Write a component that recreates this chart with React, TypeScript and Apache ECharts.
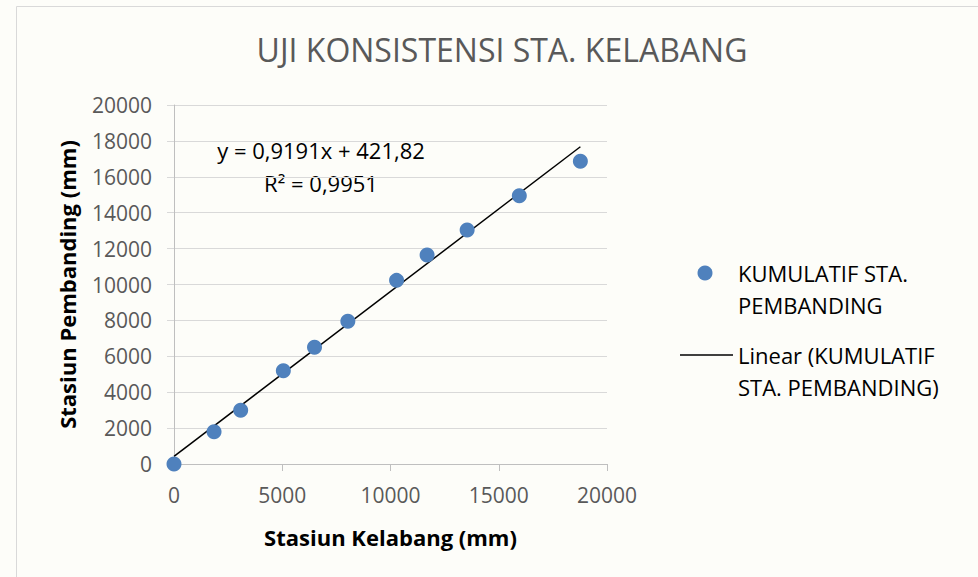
import React, { useEffect, useRef } from "react";
import * as echarts from "echarts";

const titleText = "UJI KONSISTENSI STA. KELABANG";
const xAxisName = "Stasiun Kelabang (mm)";
const yAxisName = "Stasiun Pembanding (mm)";
const seriesName = "KUMULATIF STA. PEMBANDING";
const trendName = "Linear (KUMULATIF STA. PEMBANDING)";
const legendLines1 = ["KUMULATIF STA.", "PEMBANDING"];
const legendLines2 = ["Linear (KUMULATIF", "STA. PEMBANDING)"];

const kelabang = [0, 1850, 3080, 5050, 6490, 8030, 10280, 11690, 13540, 15950, 18770];
const pembanding = [0, 1800, 3000, 5200, 6500, 7950, 10230, 11650, 13040, 14940, 16860];

const slope = 0.9191;
const intercept = 421.82;
const equationLabel = "y = 0,9191x + 421,82";
const r2Label = "R² = 0,9951";

const FONT = "'Open Sans', 'Noto Sans', sans-serif";

export default function App() {
  const ref = useRef<HTMLDivElement>(null);
  useEffect(() => {
    document.body.style.margin = "0";
    if (!ref.current) return;
    const chart = echarts.init(ref.current, undefined, { renderer: "svg" });
    const xMax = Math.max(...kelabang);
    const trend = [
      [0, intercept],
      [xMax, slope * xMax + intercept],
    ];
    const legendText = (x: number, y: number, text: string) => ({
      type: "text",
      x,
      y,
      style: { text, font: `22px ${FONT}`, fill: "#000", textVerticalAlign: "middle" },
    });
    chart.setOption({
      animation: false,
      backgroundColor: "#fdfdf9",
      textStyle: { fontFamily: FONT },
      title: {
        text: titleText,
        left: 497,
        textAlign: "center",
        top: 28,
        textStyle: { fontFamily: FONT, fontSize: 32, fontWeight: "normal", color: "#595959" },
      },
      grid: { left: 174, right: 371, top: 105, bottom: 113 },
      xAxis: {
        type: "value",
        min: 0,
        max: 20000,
        interval: 5000,
        name: xAxisName,
        nameLocation: "middle",
        nameGap: 62,
        nameTextStyle: { fontFamily: FONT, fontSize: 22, fontWeight: "bold", color: "#000" },
        axisLine: { show: true, onZero: false, lineStyle: { color: "#bfbfbf" } },
        axisTick: { show: true, length: 7, lineStyle: { color: "#bfbfbf" } },
        axisLabel: {
          fontFamily: FONT,
          fontSize: 21,
          color: "#595959",
          margin: 20,
          formatter: (v: number) => String(v),
        },
        splitLine: { show: false },
      },
      yAxis: {
        type: "value",
        min: 0,
        max: 20000,
        interval: 2000,
        name: yAxisName,
        nameLocation: "middle",
        nameGap: 96,
        nameTextStyle: { fontFamily: FONT, fontSize: 22, fontWeight: "bold", color: "#000" },
        axisLine: { show: true, lineStyle: { color: "#bfbfbf" } },
        axisTick: { show: true, length: 7, lineStyle: { color: "#d9d9d9" } },
        axisLabel: {
          fontFamily: FONT,
          fontSize: 21,
          color: "#595959",
          margin: 22,
          formatter: (v: number) => String(v),
        },
        splitLine: { show: true, lineStyle: { color: "#d9d9d9" } },
      },
      series: [
        {
          name: trendName,
          type: "line",
          data: trend,
          symbol: "none",
          lineStyle: { color: "#000", width: 1.5 },
          z: 3,
        },
        {
          name: seriesName,
          type: "scatter",
          data: kelabang.map((x, i) => [x, pembanding[i]]),
          symbol: "circle",
          symbolSize: 15,
          itemStyle: { color: "#4f81bd", opacity: 1 },
          z: 4,
        },
      ],
      graphic: [
        {
          type: "rect",
          shape: { x: 16.5, y: 6.5, width: 1000, height: 600 },
          style: { fill: "none", stroke: "#d9d9d9", lineWidth: 1 },
          silent: true,
        },
        {
          type: "text",
          x: 321,
          y: 150,
          style: { text: equationLabel, font: `22px ${FONT}`, fill: "#000", textAlign: "center", textVerticalAlign: "middle" },
        },
        {
          type: "text",
          x: 321,
          y: 183,
          style: { text: r2Label, font: `22px ${FONT}`, fill: "#000", textAlign: "center", textVerticalAlign: "middle" },
        },
        {
          type: "circle",
          shape: { cx: 705, cy: 273, r: 7.5 },
          style: { fill: "#4f81bd" },
        },
        legendText(738, 273, legendLines1[0]),
        legendText(738, 305, legendLines1[1]),
        {
          type: "line",
          shape: { x1: 680, y1: 355, x2: 733, y2: 355 },
          style: { stroke: "#000", lineWidth: 1.5 },
        },
        legendText(738, 355, legendLines2[0]),
        legendText(738, 387, legendLines2[1]),
      ],
    });
    return () => chart.dispose();
  }, []);
  return <div ref={ref} style={{ width: 978, height: 577 }} />;
}
